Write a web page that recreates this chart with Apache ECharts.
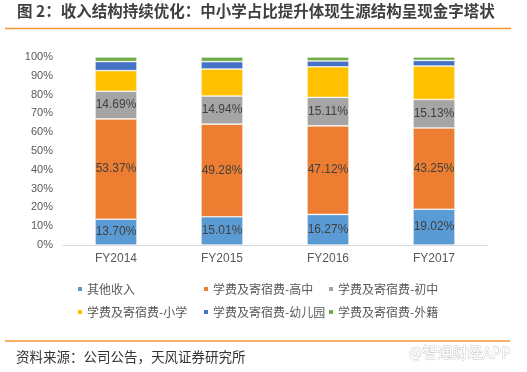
<!DOCTYPE html>
<html><head><meta charset="utf-8">
<script src="https://cdn.jsdelivr.net/npm/echarts@6/dist/echarts.min.js"></script>
<style>html,body{margin:0;padding:0;background:#fff}#c{width:527px;height:372px}</style>
</head><body><div id="c"></div>
<script>
var categories = ['FY2014', 'FY2015', 'FY2016', 'FY2017'];
var seriesNames = ['其他收入', '学费及寄宿费-高中', '学费及寄宿费-初中', '学费及寄宿费-小学', '学费及寄宿费-幼儿园', '学费及寄宿费-外籍'];
var otherIncome = [13.70, 15.01, 16.27, 19.02];
var highSchool = [53.37, 49.28, 47.12, 43.25];
var middleSchool = [14.69, 14.94, 15.11, 15.13];
var primarySchool = [11.0, 14.4, 16.3, 17.8];
var kindergarten = [4.8, 3.9, 3.1, 3.0];
var foreign = [2.44, 2.47, 2.1, 1.8];
var yTicks = [0, 10, 20, 30, 40, 50, 60, 70, 80, 90, 100];
var titleText = '图 2：收入结构持续优化：中小学占比提升体现生源结构呈现金字塔状';
var sourceText = '资料来源：公司公告，天风证券研究所';
var watermarkText = '@智通财经APP';

var colors = ['#5B9BD5', '#ED7D31', '#A5A5A5', '#FFC000', '#4472C4', '#70AD47'];
var dataArr = [otherIncome, highSchool, middleSchool, primarySchool, kindergarten, foreign];
var font = '"Noto Sans CJK SC", "Liberation Sans", sans-serif';

var series = dataArr.map(function (d, i) {
  return {
    name: seriesNames[i], type: 'bar', stack: 'total', data: d,
    barWidth: 42,
    itemStyle: { color: colors[i], borderColor: '#fff', borderWidth: 0.6 },
    label: {
      show: i < 3, position: 'inside', color: '#404040', fontSize: 12,
      fontFamily: '"Liberation Sans", sans-serif',
      formatter: function (p) { return p.value.toFixed(2) + '%'; }
    }
  };
});

var legendPos = [[76, 283], [202, 283], [327, 283], [76, 306], [202, 306], [327, 306]];
var legends = seriesNames.map(function (n, i) {
  return {
    data: [n], left: legendPos[i][0], top: legendPos[i][1], itemWidth: 6, itemHeight: 6,
    itemGap: 0, padding: 0, icon: 'rect',
    textStyle: { color: '#595959', fontSize: 12, fontFamily: font, padding: [0, 0, 0, -1] },
    selectedMode: false
  };
});

var chart = echarts.init(document.getElementById('c'));
chart.setOption({
  animation: false,
  color: colors,
  grid: { left: 63, right: 40, top: 57, bottom: 127 },
  legend: legends,
  xAxis: {
    type: 'category', data: categories,
    axisLine: { lineStyle: { color: '#D9D9D9' } },
    axisTick: { show: false },
    axisLabel: { color: '#595959', fontSize: 12, margin: 8, fontFamily: '"Liberation Sans", sans-serif' }
  },
  yAxis: {
    type: 'value', min: 0, max: 100, interval: 10,
    axisLine: { show: false }, axisTick: { show: false },
    splitLine: { show: false },
    axisLabel: { color: '#595959', fontSize: 11, margin: 10, fontFamily: '"Liberation Sans", sans-serif',
      formatter: function (v) { return yTicks.indexOf(v) >= 0 ? v + '%' : ''; } }
  },
  series: series,
  graphic: [
    { type: 'text', left: 17, top: 3, style: { text: titleText, fill: '#404040', font: 'bold 15.5px ' + font } },
    { type: 'line', shape: { x1: 5, y1: 28.5, x2: 511, y2: 28.5 }, style: { stroke: '#F39632', lineWidth: 1.5 } },
    { type: 'line', shape: { x1: 5, y1: 341, x2: 510, y2: 341 }, style: { stroke: '#F39632', lineWidth: 1.5 } },
    { type: 'text', left: 16, top: 350, style: { text: sourceText, fill: '#333', font: '13.5px ' + font } },
    { type: 'text', left: 408, top: 344, style: { text: watermarkText, fill: '#fff', stroke: '#C8C8C8', lineWidth: 0.8, font: '15px ' + font } }
  ]
});
</script></body></html>
